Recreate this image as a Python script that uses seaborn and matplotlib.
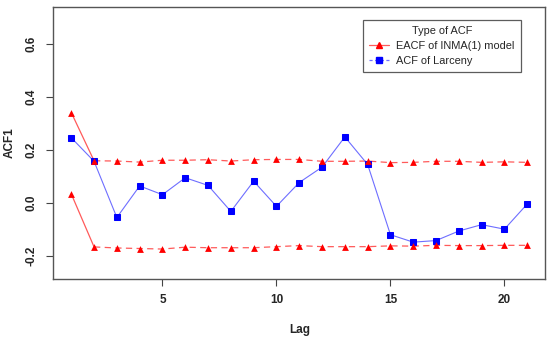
import matplotlib
matplotlib.use("Agg")
import matplotlib.pyplot as plt
from matplotlib.lines import Line2D
import seaborn as sns
import pandas as pd

lags = list(range(1, 22))
eacf_upper = [0.34, 0.158, 0.157, 0.153, 0.160, 0.160, 0.162, 0.157, 0.162, 0.163,
              0.163, 0.156, 0.156, 0.157, 0.151, 0.152, 0.156, 0.156, 0.152, 0.154, 0.152]
eacf_lower = [0.033, -0.167, -0.171, -0.173, -0.175, -0.168, -0.170, -0.170, -0.170, -0.166,
              -0.162, -0.166, -0.166, -0.166, -0.163, -0.164, -0.161, -0.162, -0.162, -0.161, -0.161]
acf_larceny = [0.245, 0.156, -0.056, 0.063, 0.030, 0.094, 0.065, -0.033, 0.081, -0.014,
               0.076, 0.134, 0.248, 0.144, -0.121, -0.149, -0.143, -0.107, -0.083, -0.100, -0.005]
yticks = [-0.2, 0.0, 0.2, 0.4, 0.6]
ytick_labels = ["-0.2", "0.0", "0.2", "0.4", "0.6"]
xticks = [5, 10, 15, 20]

sns.set_theme(style="white")
plt.rcParams["font.family"] = ["Liberation Sans", "DejaVu Sans"]

fig = plt.figure(figsize=(5.5, 3.37), dpi=100)
ax = fig.add_axes([0.0964, 0.1721, 0.8954, 0.8071])

red_line = "#ff5a5a"
blue_line = "#6e6eff"
ms = 3.9

# blue series
sns.lineplot(x=lags, y=acf_larceny, ax=ax, color=blue_line, lw=0.8, marker="s",
             markersize=ms, markerfacecolor="#0000ff", markeredgecolor="#0000ff", zorder=3)

# red: solid first segment, dashed rest
for ser in (eacf_upper, eacf_lower):
    sns.lineplot(x=lags[:2], y=ser[:2], ax=ax, color=red_line, lw=0.9, zorder=2)
    l = sns.lineplot(x=lags[1:], y=ser[1:], ax=ax, color=red_line, lw=0.9, zorder=2)
    l.lines[-1].set_dashes((5, 3.5))
    sns.scatterplot(x=lags, y=ser, ax=ax, marker="^", s=24, color="#ff0000",
                    edgecolor="#ff0000", linewidth=0, zorder=4)

ax.set_xlim(0.2, 21.8)
ax.set_ylim(-0.288, 0.738)
ax.set_yticks(yticks)
ax.set_yticklabels(ytick_labels, rotation=90, va="center", fontweight="bold", fontsize=8.5)
ax.set_xticks(xticks)
ax.set_xticklabels([str(t) for t in xticks], fontweight="bold", fontsize=8.5)
ax.tick_params(axis="both", which="both", length=5, width=0.8, color="#444444",
               direction="out", bottom=True, left=True, pad=6)
ax.set_xlabel("Lag", fontweight="bold", fontsize=8.5, labelpad=13)
ax.set_ylabel("ACF1", fontweight="bold", fontsize=8.5, labelpad=7)
for s in ax.spines.values():
    s.set_visible(True)
    s.set_color("#555555")
    s.set_linewidth(1.0)

handles = [
    Line2D([0], [0], color=red_line, lw=0.9, marker="^", markersize=4,
           markerfacecolor="#ff0000", markeredgecolor="#ff0000"),
    Line2D([0], [0], color=blue_line, lw=0.9, ls=(0, (2.5, 2)), marker="s", markersize=ms,
           markerfacecolor="#0000ff", markeredgecolor="#0000ff"),
]
leg = ax.legend(handles, ["EACF of INMA(1) model", "ACF of Larceny"], title="Type of ACF",
                loc="upper right", bbox_to_anchor=(0.950, 0.952), borderaxespad=0,
                fontsize=7.9, title_fontsize=7.9, frameon=True, fancybox=False,
                handlelength=1.8, handletextpad=0.7, labelspacing=0.45, borderpad=0.55)
leg.get_frame().set_edgecolor("#333333")
leg.get_frame().set_linewidth(0.9)

fig.savefig("out.png", dpi=100)
